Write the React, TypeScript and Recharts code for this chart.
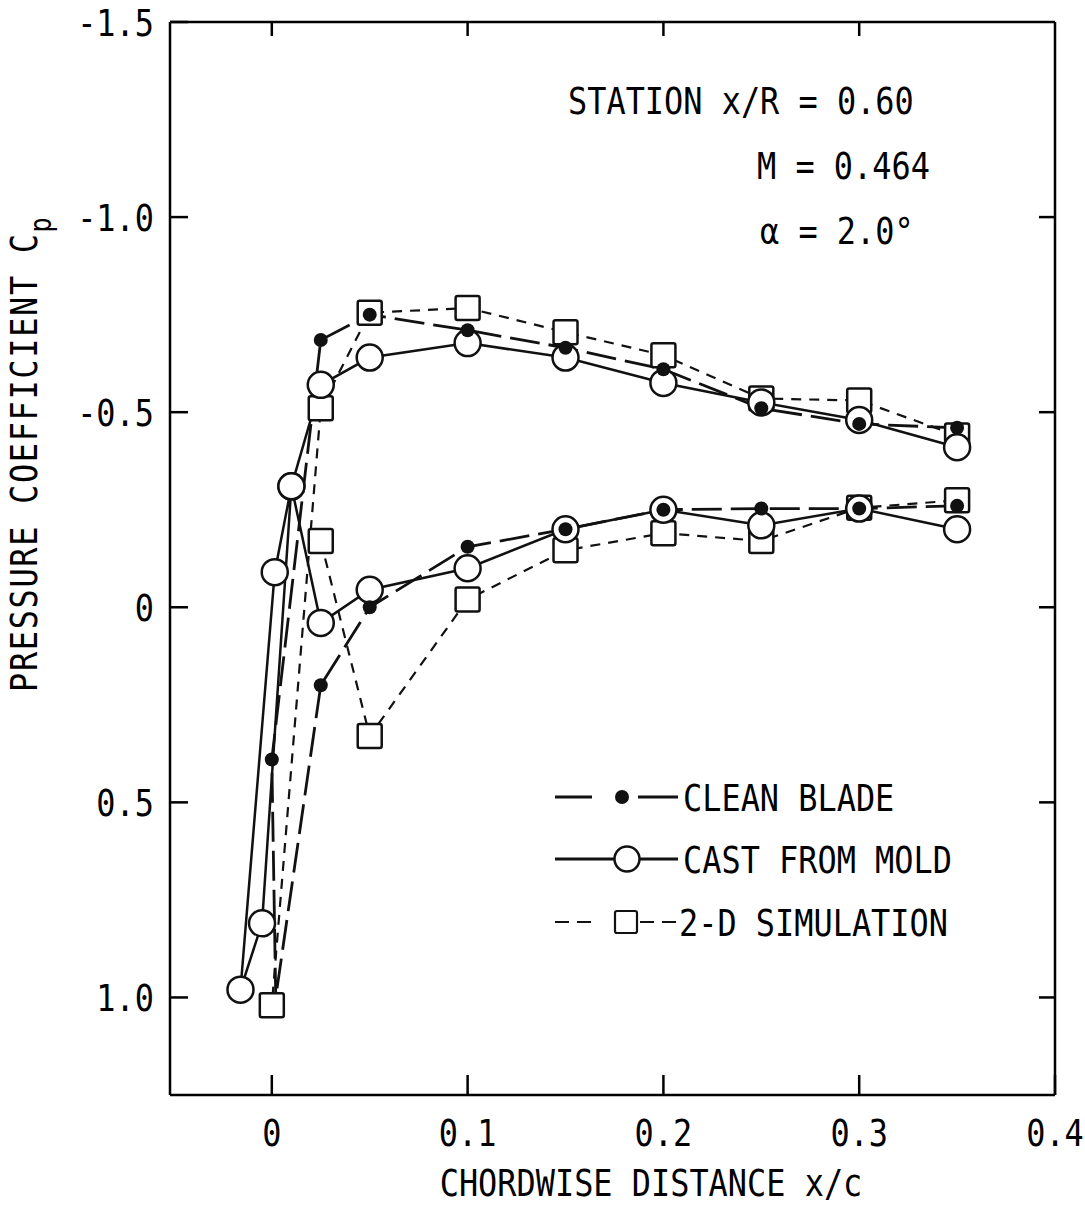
import React from "react"
import { LineChart, Line, XAxis, YAxis, Label } from "recharts"

const FONT = "'DejaVu Sans Mono', 'Liberation Mono', monospace"
const INK = "#111"
const FS = 38
const SQUEEZE = 0.84

// each series runs upper surface (trailing edge -> leading edge) then lower surface back out
const cleanX = [0.35, 0.3, 0.25, 0.2, 0.15, 0.1, 0.05, 0.025, 0.0, 0.002, 0.025, 0.05, 0.1, 0.15, 0.2, 0.25, 0.3, 0.35]
const cleanCp = [-0.46, -0.47, -0.51, -0.61, -0.665, -0.71, -0.75, -0.685, 0.39, 1.0, 0.2, 0.0, -0.155, -0.2, -0.25, -0.253, -0.253, -0.26]
// the stagnation point of the clean blade sits under the simulation square
const cleanHiddenDot = 9

const castX = [0.35, 0.3, 0.25, 0.2, 0.15, 0.1, 0.05, 0.025, 0.01, 0.0015, -0.016, -0.005, 0.01, 0.025, 0.05, 0.1, 0.15, 0.2, 0.25, 0.3, 0.35]
const castCp = [-0.41, -0.48, -0.525, -0.575, -0.64, -0.677, -0.64, -0.57, -0.31, -0.09, 0.98, 0.81, -0.31, 0.04, -0.045, -0.1, -0.2, -0.25, -0.21, -0.253, -0.2]

// null splits the simulation line between the stagnation square and the lower surface
const simX = [0.35, 0.3, 0.25, 0.2, 0.15, 0.1, 0.05, 0.025, 0.0, 0.01, 0.025, 0.05, 0.1, 0.15, 0.2, 0.25, 0.3, 0.35]
const simCp = [-0.44, -0.53, -0.535, -0.646, -0.705, -0.767, -0.755, -0.51, 1.02, null, -0.17, 0.33, -0.02, -0.146, -0.19, -0.17, -0.255, -0.274]

const xTicks = [0, 0.1, 0.2, 0.3, 0.4]
const topTicks = [0, 0.1, 0.2, 0.3]
const cpTicks = [-1.5, -1.0, -0.5, 0, 0.5, 1.0]

const toRows = (xs: number[], cps: (number | null)[]) => xs.map((x, i) => ({ x, cp: cps[i] }))

const clean = toRows(cleanX, cleanCp)
const cast = toRows(castX, castCp)
const sim = toRows(simX, simCp)

const fmt = (v: number) => (v === 0 ? "0" : v.toFixed(1))

// tall narrow lettering like the typed original
function Txt({ x, y, anchor = "start", rotate = 0, spacing = 0, children }: any) {
  return (
    <text
      transform={`translate(${x},${y}) rotate(${rotate}) scale(${SQUEEZE},1)`}
      textAnchor={anchor}
      fontFamily={FONT}
      fontSize={FS}
      letterSpacing={spacing}
      fill="#000"
    >
      {children}
    </text>
  )
}

const leftTick = (p: any) => (
  <Txt key={p.index} x={p.x} y={p.y + 14} anchor="end">{fmt(p.payload.value)}</Txt>
)
const bottomTick = (p: any) => (
  <Txt key={p.index} x={p.x} y={p.y + 23} anchor="middle">{fmt(p.payload.value)}</Txt>
)

const squareDot = (p: any) => {
  if (p.cy == null || p.payload?.cp == null) return <g key={p.index} />
  return <rect key={p.index} x={p.cx - 12} y={p.cy - 12} width={24} height={24} rx={2} fill="#fff" stroke={INK} strokeWidth={2.5} />
}

const circleDot = (p: any) => {
  if (p.cy == null || p.payload?.cp == null) return <g key={p.index} />
  return <circle key={p.index} cx={p.cx} cy={p.cy} r={13} fill="#fff" stroke={INK} strokeWidth={2.5} />
}

const filledDot = (p: any) => {
  if (p.cy == null || p.index === cleanHiddenDot) return <g key={p.index} />
  return <circle key={p.index} cx={p.cx} cy={p.cy} r={7} fill={INK} />
}

const axisStyle = { stroke: "#000", strokeWidth: 2.5 }

export default function App() {
  return (
    <div style={{ position: "absolute", left: 0, top: 0, width: 1085, height: 1215, background: "#fff" }}>
      <LineChart width={1085} height={1215} margin={{ top: 12, right: 20, bottom: 0, left: 0 }}>
        <XAxis
          xAxisId="bottom"
          dataKey="x"
          type="number"
          domain={[-0.052, 0.4]}
          allowDataOverflow
          ticks={xTicks}
          height={120}
          axisLine={axisStyle}
          tickLine={axisStyle}
          tickSize={-20}
          tickMargin={48}
          tick={bottomTick}
        >
          <Label content={() => <Txt x={651} y={1196} anchor="middle">CHORDWISE DISTANCE x/c</Txt>} />
        </XAxis>
        <XAxis
          xAxisId="top"
          orientation="top"
          dataKey="x"
          type="number"
          domain={[-0.052, 0.4]}
          allowDataOverflow
          ticks={topTicks}
          tickFormatter={() => ""}
          height={10}
          axisLine={axisStyle}
          tickLine={axisStyle}
          tickSize={-14}
        />
        <YAxis
          yAxisId="left"
          type="number"
          domain={[-1.5, 1.25]}
          reversed
          allowDataOverflow
          ticks={cpTicks}
          width={170}
          axisLine={axisStyle}
          tickLine={axisStyle}
          tickSize={-18}
          tickMargin={34}
          tick={leftTick}
        >
          <Label
            content={() => (
              <Txt x={37} y={692} rotate={-90} spacing={2}>
                PRESSURE COEFFICIENT C
                <tspan fontSize={30} dy={14}>p</tspan>
              </Txt>
            )}
          />
        </YAxis>
        <YAxis
          yAxisId="right"
          orientation="right"
          type="number"
          domain={[-1.5, 1.25]}
          reversed
          allowDataOverflow
          ticks={cpTicks.slice(1)}
          tickFormatter={() => ""}
          width={10}
          axisLine={axisStyle}
          tickLine={axisStyle}
          tickSize={-16}
        />

        {/* connecting lines */}
        <Line xAxisId="bottom" yAxisId="left" data={sim} dataKey="cp" type="linear" stroke={INK} strokeWidth={2.2}
          strokeDasharray="10 8" dot={false} activeDot={false} isAnimationActive={false} />
        <Line xAxisId="bottom" yAxisId="left" data={cast} dataKey="cp" type="linear" stroke={INK} strokeWidth={2.5}
          dot={false} activeDot={false} isAnimationActive={false} />
        <Line xAxisId="bottom" yAxisId="left" data={clean} dataKey="cp" type="linear" stroke={INK} strokeWidth={2.8}
          strokeDasharray="30 9" dot={false} activeDot={false} isAnimationActive={false} />

        {/* markers on top of all lines */}
        <Line xAxisId="bottom" yAxisId="left" data={sim} dataKey="cp" stroke="none" dot={squareDot}
          activeDot={false} isAnimationActive={false} />
        <Line xAxisId="bottom" yAxisId="left" data={cast} dataKey="cp" stroke="none" dot={circleDot}
          activeDot={false} isAnimationActive={false} />
        <Line xAxisId="bottom" yAxisId="left" data={clean} dataKey="cp" stroke="none" dot={filledDot}
          activeDot={false} isAnimationActive={false} />
      </LineChart>

      <svg width={1085} height={1215} style={{ position: "absolute", left: 0, top: 0, pointerEvents: "none" }}>
        <Txt x={568} y={114}>STATION x/R = 0.60</Txt>
        <Txt x={757} y={179}>M = 0.464</Txt>
        <Txt x={760} y={244}>α = 2.0°</Txt>

        {/* legend */}
        <g stroke={INK} strokeWidth={2.8}>
          <line x1={555} y1={797} x2={592} y2={797} />
          <line x1={638} y1={797} x2={678} y2={797} />
          <line x1={555} y1={859} x2={615} y2={859} />
          <line x1={640} y1={859} x2={678} y2={859} />
          <line x1={555} y1={922} x2={598} y2={922} strokeDasharray="14 8" strokeWidth={2.2} />
          <line x1={640} y1={922} x2={678} y2={922} strokeDasharray="14 8" strokeWidth={2.2} />
        </g>
        <circle cx={622} cy={797} r={7} fill={INK} />
        <circle cx={627} cy={859} r={12.5} fill="#fff" stroke={INK} strokeWidth={2.5} />
        <rect x={615} y={911} width={22} height={22} rx={2} fill="#fff" stroke={INK} strokeWidth={2.2} />
        <Txt x={683} y={811}>CLEAN BLADE</Txt>
        <Txt x={683} y={873}>CAST FROM MOLD</Txt>
        <Txt x={679} y={936}>2-D SIMULATION</Txt>
      </svg>
    </div>
  )
}
